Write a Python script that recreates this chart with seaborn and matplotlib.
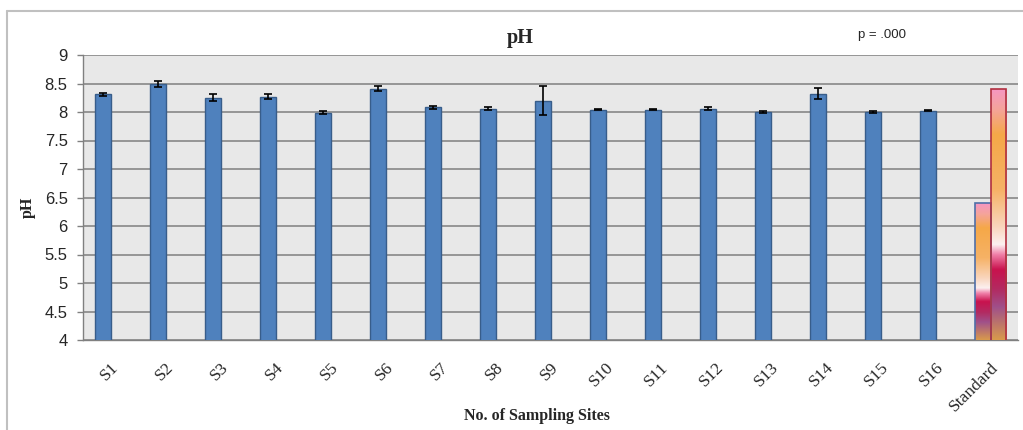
import numpy as np
import pandas as pd
import matplotlib
matplotlib.use("Agg")
import matplotlib.pyplot as plt
import seaborn as sns
from matplotlib.colors import LinearSegmentedColormap
from matplotlib.lines import Line2D

# ---- data ----
sites = ["S1", "S2", "S3", "S4", "S5", "S6", "S7", "S8", "S9", "S10",
         "S11", "S12", "S13", "S14", "S15", "S16"]
ph_mean = [8.31, 8.49, 8.25, 8.27, 7.99, 8.41, 8.08, 8.06, 8.20, 8.04,
           8.04, 8.06, 8.00, 8.32, 8.00, 8.02]
ph_err = [0.03, 0.06, 0.06, 0.04, 0.03, 0.05, 0.02, 0.02, 0.26, 0.01,
          0.01, 0.03, 0.02, 0.10, 0.02, 0.01]
std_label = "Standard"
std_min = 6.4
std_max = 8.4
y_ticks = [4, 4.5, 5, 5.5, 6, 6.5, 7, 7.5, 8, 8.5, 9]
y_tick_labels = ["4", "4.5", "5", "5.5", "6", "6.5", "7", "7.5", "8", "8.5", "9"]

categories = sites + [std_label]
rows = [(s, v, "Sample") for s, v in zip(sites, ph_mean)]
rows.append((std_label, std_min, "Sample"))
rows.append((std_label, std_max, "Max"))
df = pd.DataFrame(rows, columns=["site", "ph", "series"])

# ---- styling ----
sns.set_style("white")
plt.rcParams["font.family"] = ["Liberation Serif", "DejaVu Serif"]

W, H = 1023, 430
fig = plt.figure(figsize=(W / 100, H / 100), dpi=100)
ax = fig.add_axes([83 / W, (H - 340) / H, (1018 - 83) / W, (340 - 55) / H])
ax.set_facecolor("#E8E8E8")

sns.barplot(data=df, x="site", y="ph", hue="series", order=categories,
            hue_order=["Sample", "Max"], palette=["#4F81BD", "#F5A84A"],
            saturation=1, dodge=True, width=0.58, errorbar=None, legend=False,
            ax=ax, edgecolor="#385D8A", linewidth=1.0, zorder=3)

# error bars on sample bars
sample_bars = list(ax.containers[0])
xs = [p.get_x() + p.get_width() / 2 for p in sample_bars[:len(sites)]]
ax.errorbar(xs, ph_mean, yerr=ph_err, fmt="none", ecolor="black",
            elinewidth=1.2, capsize=3, capthick=1.2, zorder=5)

# gradient fill on standard bars
stops = [(0.00, "#F597C2"), (0.08, "#F5A49A"), (0.18, "#F5A848"),
         (0.40, "#F6B266"), (0.55, "#F9D6BE"), (0.62, "#FCF0F0"),
         (0.66, "#F07FA8"), (0.72, "#C9124E"), (0.80, "#B22B62"),
         (0.87, "#A0508A"), (1.00, "#D89A4C")]
cmap = LinearSegmentedColormap.from_list("sunset", stops)
grad = np.linspace(0, 1, 256).reshape(-1, 1)
std_bars = [sample_bars[len(sites)], list(ax.containers[1])[0]]
edge_cols = ["#4F6FA8", "#B03040"]
for p, ec in zip(std_bars, edge_cols):
    x0 = p.get_x()
    x1 = x0 + p.get_width()
    top = p.get_y() + p.get_height()
    p.set_facecolor("none")
    p.set_edgecolor(ec)
    p.set_linewidth(1.2)
    p.set_zorder(4)
    im = ax.imshow(grad, cmap=cmap, aspect="auto", extent=(x0, x1, y_ticks[0], top),
                   origin="upper", zorder=3, interpolation="bilinear")
    im.set_clip_path(p)

ax.set_xlim(-0.5, len(categories) - 0.5)
ax.set_ylim(y_ticks[0], y_ticks[-1])
ax.set_yticks(y_ticks)
ax.set_yticklabels(y_tick_labels, family=["Liberation Sans Narrow", "Liberation Sans"],
                   fontsize=12)
ax.yaxis.grid(True, color="#8F8F8F", linewidth=1.3, zorder=1)
ax.set_axisbelow(True)

ax.set_xticks(range(len(categories)))
ax.set_xticklabels(categories, rotation=45, ha="right", rotation_mode="anchor",
                   fontsize=12.5)
ax.set_xticks(np.arange(-0.5, len(categories), 1.0), minor=True)
ax.tick_params(axis="x", which="major", length=0, pad=14)
ax.tick_params(axis="x", which="minor", length=5, color="#808080", width=1)
ax.tick_params(axis="y", length=4, color="#808080", width=1, pad=7, left=True)

for side in ["top", "right"]:
    ax.spines[side].set_visible(False)
for side in ["left", "bottom"]:
    ax.spines[side].set_color("#808080")
    ax.spines[side].set_linewidth(1.0)

ax.set_xlabel("No. of Sampling Sites", fontsize=11.5, fontweight="bold", labelpad=4)
ax.set_ylabel("pH", fontsize=11.5, fontweight="bold", labelpad=8)
ax.xaxis.set_label_coords((537 - 83) / (1018 - 83), -(408 - 340) / (340 - 55))
ax.yaxis.set_label_coords(-(83 - 36) / (1018 - 83), (340 - 207) / (340 - 55))

fig.text(520 / W, 1 - 38 / H, "pH", fontsize=14.5, fontweight="bold",
         ha="center", va="center")
fig.text(882 / W, 1 - 35 / H, "p = .000", fontsize=9.5,
         family=["Liberation Sans", "DejaVu Sans"], ha="center", va="center")

# outer chart frame (partially visible)
fig.add_artist(Line2D([7 / W, 1.0], [1 - 10.5 / H, 1 - 10.5 / H],
                      transform=fig.transFigure, color="#C0C0C0", linewidth=1.5))
fig.add_artist(Line2D([7 / W, 7 / W], [0.0, 1 - 10.5 / H],
                      transform=fig.transFigure, color="#C0C0C0", linewidth=1.5))

fig.savefig("out.png", dpi=100)
